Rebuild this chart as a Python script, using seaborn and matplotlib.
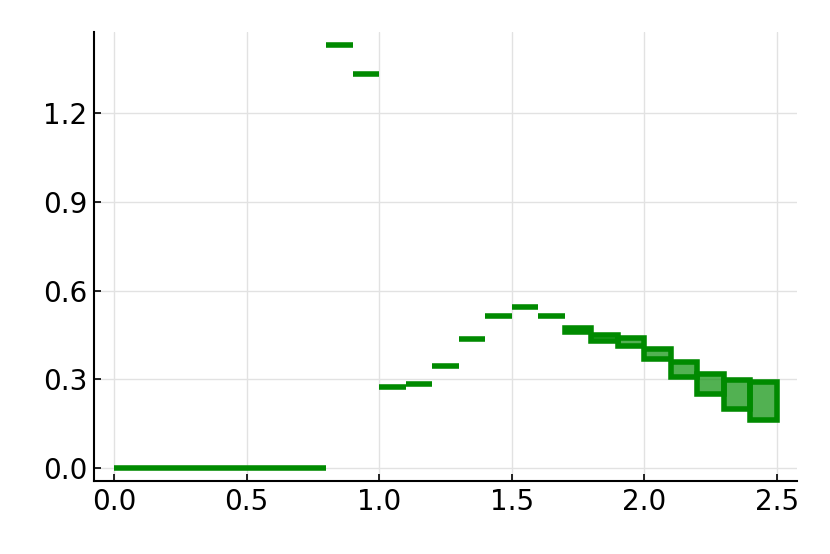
import numpy as np
import matplotlib.pyplot as plt
import seaborn as sns

# interval data: left edge, lower and upper bound of each box
x_left = [0.0, 0.1, 0.2, 0.3, 0.4, 0.5, 0.6, 0.7, 0.8, 0.9,
          1.0, 1.1, 1.2, 1.3, 1.4, 1.5, 1.6, 1.7, 1.8, 1.9,
          2.0, 2.1, 2.2, 2.3, 2.4]
y_low = [0.0, 0.0, 0.0, 0.0, 0.0, 0.0, 0.0, 0.0, 1.430, 1.332,
         0.276, 0.285, 0.347, 0.437, 0.514, 0.544, 0.514, 0.461, 0.431, 0.413,
         0.368, 0.309, 0.252, 0.201, 0.163]
y_high = [0.0, 0.0, 0.0, 0.0, 0.0, 0.0, 0.0, 0.0, 1.430, 1.332,
          0.276, 0.285, 0.347, 0.437, 0.514, 0.544, 0.514, 0.473, 0.450, 0.439,
          0.402, 0.360, 0.320, 0.298, 0.291]
box_width = 0.1

x_ticks = [0.0, 0.5, 1.0, 1.5, 2.0, 2.5]
y_ticks = [0.0, 0.3, 0.6, 0.9, 1.2]

sns.set_theme(style="ticks")
plt.rcParams['font.family'] = ['DejaVu Sans']

fig = plt.figure(figsize=(8.3, 5.54), dpi=100)
ax = fig.add_axes([0.1133, 0.1318, 0.8467, 0.8102])

heights = np.array(y_high) - np.array(y_low)
ax.bar(x_left, heights, bottom=y_low, width=box_width, align='edge',
       color=(0.0, 0.55, 0.0, 0.68), edgecolor='#008a00', linewidth=4,
       joinstyle='miter', zorder=3)

xmin, xmax = 0.0, 2.5
ymin, ymax = 0.0, max(y_high)
ax.set_xlim(xmin - 0.03 * (xmax - xmin), xmax + 0.03 * (xmax - xmin))
ax.set_ylim(ymin - 0.03 * (ymax - ymin), ymax + 0.03 * (ymax - ymin))

ax.set_xticks(x_ticks)
ax.set_xticklabels([f"{v:.1f}" for v in x_ticks])
ax.set_yticks(y_ticks)
ax.set_yticklabels([f"{v:.1f}" for v in y_ticks])

ax.grid(True, color='#e2e2e2', linewidth=1.0, zorder=0)
ax.set_axisbelow(True)
ax.tick_params(direction='in', length=5, width=1.2, labelsize=20, colors='black', pad=5)
sns.despine(ax=ax)
for s in ['left', 'bottom']:
    ax.spines[s].set_linewidth(1.5)
    ax.spines[s].set_color('black')

fig.savefig('out.png', dpi=100)
